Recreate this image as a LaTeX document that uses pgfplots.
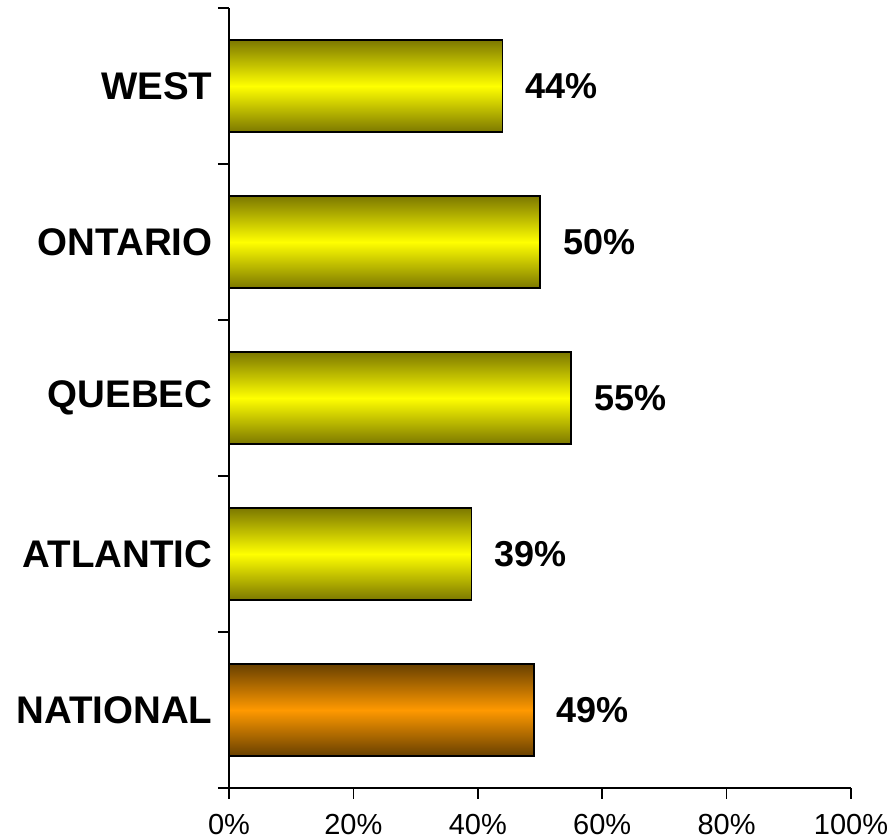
\documentclass[border=0pt]{standalone}
\usepackage{pgfplots}
\pgfplotsset{compat=1.18}
\usepackage{fontspec}
\setmainfont{Liberation Sans}
\definecolor{oliveD}{RGB}{124,120,0}
\definecolor{yelM}{RGB}{255,255,0}
\definecolor{brownD}{RGB}{104,64,0}
\definecolor{orgM}{RGB}{255,153,0}
\begin{document}
\begin{tikzpicture}
\useasboundingbox (-229pt,-52pt) rectangle (666pt,788pt);
\begin{axis}[
  at={(0pt,0pt)}, anchor=south west,
  scale only axis, width=622pt, height=780pt,
  xbar, bar width=92pt, bar shift=0pt,
  xmin=0, xmax=100, ymin=-0.5, ymax=4.5,
  axis x line*=bottom, axis y line*=left,
  axis line style={line width=1.6pt, -},
  tick align=outside,
  major tick length=11pt,
  tick style={line width=1.6pt, black},
  xtick={0,20,...,100},
  xticklabel={\pgfmathprintnumber{\tick}\%},
  /pgf/number format/assume math mode=true,
  xticklabel style={font=\fontsize{29}{34}\selectfont, yshift=-12pt},
  ytick={-0.5,0.5,1.5,2.5,3.5,4.5},
  yticklabels={},
  ytick style={line width=1.6pt, black},
  extra y ticks={0,1,2,3,4},
  extra y tick labels={NATIONAL,ATLANTIC,QUEBEC,ONTARIO,WEST},
  extra y tick style={major tick length=0pt,
    yticklabel style={font=\fontsize{38.5}{42}\selectfont\bfseries, xshift=-13pt}},
  nodes near coords={\pgfmathprintnumber{\pgfplotspointmeta}\%},
  nodes near coords style={anchor=west, xshift=19pt, font=\fontsize{36}{40}\selectfont\bfseries, /pgf/number format/assume math mode=true},
  clip=false,
]
\addplot[draw=black, line width=1.6pt, top color=oliveD, bottom color=oliveD, middle color=yelM]
  coordinates {(44,4)};
\addplot[draw=black, line width=1.6pt, top color=oliveD, bottom color=oliveD, middle color=yelM]
  coordinates {(50,3)};
\addplot[draw=black, line width=1.6pt, top color=oliveD, bottom color=oliveD, middle color=yelM]
  coordinates {(55,2)};
\addplot[draw=black, line width=1.6pt, top color=oliveD, bottom color=oliveD, middle color=yelM]
  coordinates {(39,1)};
\addplot[draw=black, line width=1.6pt, top color=brownD, bottom color=brownD, middle color=orgM]
  coordinates {(49,0)};
\end{axis}
\end{tikzpicture}
\end{document}
